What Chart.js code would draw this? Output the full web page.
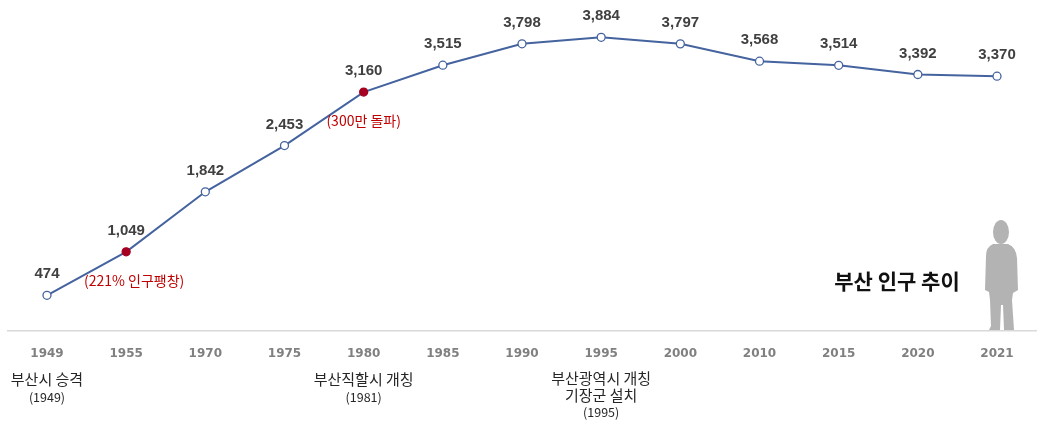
<!DOCTYPE html>
<html>
<head>
<meta charset="utf-8">
<script src="https://cdn.jsdelivr.net/npm/chart.js@4.4.1/dist/chart.umd.min.js"></script>
<style>
html,body{margin:0;padding:0;background:#fff;}
#wrap{width:1044px;height:427px;position:relative;}
</style>
</head>
<body>
<div id="wrap"><canvas id="c" width="1044" height="427"></canvas></div>
<script>
const years = ['1949','1955','1970','1975','1980','1985','1990','1995','2000','2010','2015','2020','2021'];
const population = [474, 1049, 1842, 2453, 3160, 3515, 3798, 3884, 3797, 3568, 3514, 3392, 3370];
const highlightYears = ['1955','1980'];
const pointNotes = {'1955': '(221% 인구팽창)', '1980': '(300만 돌파)'};
const eventNotes = [
  {year: '1949', lines: ['부산시 승격', '(1949)']},
  {year: '1980', lines: ['부산직할시 개칭', '(1981)']},
  {year: '1995', lines: ['부산광역시 개칭', '기장군 설치', '(1995)']}
];
const chartTitle = '부산 인구 추이';

const LINE = '#44639f';
const RED = '#a50021';

const fmt = v => v.toLocaleString('en-US');

const decor = {
  id: 'decor',
  afterDatasetsDraw(chart) {
    const ctx = chart.ctx;
    const meta = chart.getDatasetMeta(0);
    const xs = chart.scales.x;
    ctx.save();
    ctx.font = 'bold 15px "Liberation Sans", Arial, sans-serif';
    ctx.fillStyle = '#404040';
    ctx.textAlign = 'center';
    ctx.textBaseline = 'middle';
    meta.data.forEach((pt, i) => {
      ctx.fillText(fmt(population[i]), pt.x, pt.y - 21);
    });
    ctx.font = '14px "Noto Sans CJK KR", sans-serif';
    ctx.fillStyle = '#c00000';
    Object.keys(pointNotes).forEach(y => {
      const i = years.indexOf(y);
      const pt = meta.data[i];
      const dx = (y === '1955') ? 8 : 0;
      ctx.fillText(pointNotes[y], pt.x + dx, pt.y + 29);
    });
    ctx.fillStyle = '#262626';
    eventNotes.forEach(n => {
      const x = xs.getPixelForValue(years.indexOf(n.year));
      const multi = n.lines.length > 2;
      n.lines.forEach((t, k) => {
        const isYear = t.startsWith('(');
        ctx.font = isYear ? '12.5px "Noto Sans CJK KR", sans-serif' : '15px "Noto Sans CJK KR", sans-serif';
        const y = multi ? [378, 395, 412][k] : [379, 397][k];
        ctx.fillText(t, x, y);
      });
    });
    ctx.font = 'bold 21px "Noto Sans CJK KR", sans-serif';
    ctx.fillStyle = '#111';
    ctx.fillText(chartTitle, 897, 281);
    ctx.fillStyle = '#b3b3b3';
    ctx.beginPath();
    ctx.ellipse(1001, 232, 8, 12, 0, 0, Math.PI * 2);
    ctx.fill();
    ctx.beginPath();
    ctx.moveTo(993, 244);
    ctx.quadraticCurveTo(986, 247, 986, 256);
    ctx.lineTo(985, 290);
    ctx.lineTo(989, 292);
    ctx.lineTo(990, 300);
    ctx.lineTo(991, 326);
    ctx.lineTo(989, 330);
    ctx.lineTo(1000, 330);
    ctx.lineTo(1001, 305);
    ctx.lineTo(1003, 305);
    ctx.lineTo(1004, 330);
    ctx.lineTo(1014, 330);
    ctx.lineTo(1012, 300);
    ctx.lineTo(1013, 293);
    ctx.lineTo(1018, 290);
    ctx.lineTo(1017, 258);
    ctx.quadraticCurveTo(1016, 247, 1008, 244);
    ctx.closePath();
    ctx.fill();
    ctx.restore();
  }
};

new Chart(document.getElementById('c'), {
  type: 'line',
  data: {
    labels: years,
    datasets: [{
      data: population,
      borderColor: LINE,
      borderWidth: 2,
      tension: 0,
      pointRadius: 4,
      pointHoverRadius: 4,
      pointBorderWidth: 1.3,
      pointBorderColor: years.map(y => highlightYears.includes(y) ? RED : LINE),
      pointBackgroundColor: years.map(y => highlightYears.includes(y) ? RED : '#ffffff')
    }]
  },
  options: {
    responsive: false,
    animation: false,
    layout: {padding: {top: 28.5, left: 7.4, right: 7.4, bottom: 51.4}},
    plugins: {legend: {display: false}, tooltip: {enabled: false}},
    scales: {
      x: {
        offset: true,
        grid: {display: false, drawTicks: false},
        border: {display: true, color: '#d9d9d9', width: 1.5},
        ticks: {
          padding: 15,
          color: '#808080',
          font: {family: '"DejaVu Sans", Verdana, sans-serif', size: 12, weight: 'bold'},
          maxRotation: 0, autoSkip: false
        }
      },
      y: {display: false, min: 0, max: 4000}
    }
  },
  plugins: [decor]
});
</script>
</body>
</html>
